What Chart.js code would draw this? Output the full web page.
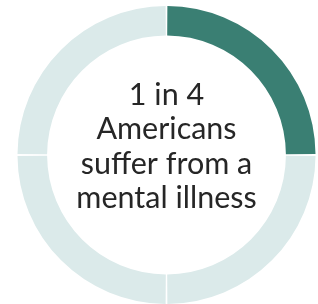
<!DOCTYPE html>
<html>
<head>
<meta charset="utf-8">
<script src="https://cdn.jsdelivr.net/npm/chart.js@4"></script>
<style>
  html, body { margin: 0; padding: 0; background: #fff; }
  #wrap { width: 318px; height: 304px; position: relative; }
</style>
</head>
<body>
<div id="wrap"><canvas id="donut"></canvas></div>
<script>
const labels = ['Mental illness', 'Other', 'Other', 'Other']
const values = [1, 1, 1, 1]
const colors = ['#3a7f73', '#dbeaea', '#dbeaea', '#dbeaea']
const centerLines = ['1 in 4', 'Americans', 'suffer from a', 'mental illness']

// text in the middle of the ring
const centerText = {
  id: 'centerText',
  afterDraw(chart) {
    const ctx = chart.ctx
    const arc = chart.getDatasetMeta(0).data[0]
    ctx.save()
    ctx.fillStyle = '#262626'
    ctx.font = '400 30.5px Lato'
    ctx.textAlign = 'center'
    ctx.textBaseline = 'alphabetic'
    const lineH = 34.4
    const firstBase = 105
    centerLines.forEach((line, i) => {
      ctx.fillText(line, arc.x, firstBase + i * lineH)
    })
    ctx.restore()
  }
}

new Chart(document.getElementById('donut'), {
  type: 'doughnut',
  data: {
    labels: labels,
    datasets: [{
      data: values,
      backgroundColor: colors,
      borderWidth: 0,
      spacing: 2
    }]
  },
  options: {
    responsive: true,
    maintainAspectRatio: false,
    animation: false,
    cutout: '80%',
    layout: { padding: { left: 17, right: 2, top: 6, bottom: 0 } },
    plugins: {
      legend: { display: false },
      tooltip: { enabled: false }
    }
  },
  plugins: [centerText]
})
</script>
</body>
</html>
